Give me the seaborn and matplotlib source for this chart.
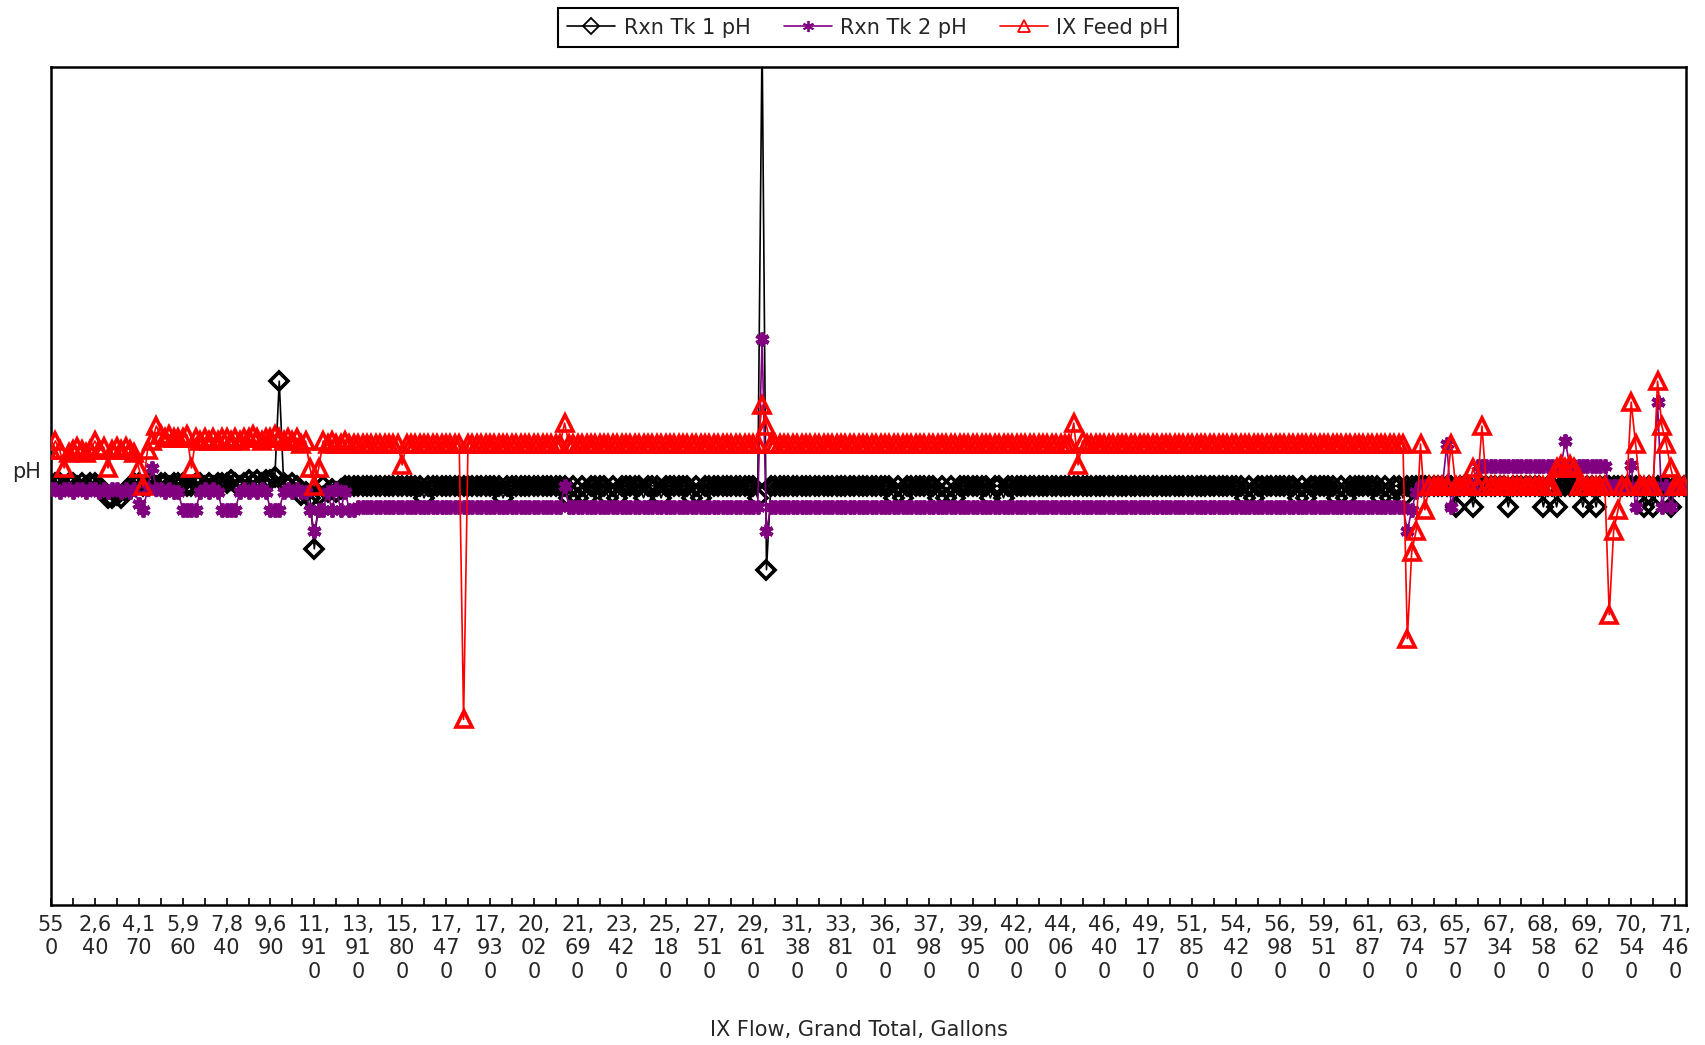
import numpy as np
import matplotlib
matplotlib.use("Agg")
import matplotlib.pyplot as plt
import seaborn as sns

# x axis: IX flow grand total (gallons), one label every 10 readings
gallons = [550, 2640, 4170, 5960, 7840, 9690, 11910, 13910, 15800, 17470,
           17930, 20020, 21690, 23420, 25180, 27510, 29610, 31380, 33810, 36010,
           37980, 39950, 42000, 44060, 46400, 49170, 51850, 54420, 56980, 59510,
           61870, 63740, 65570, 67340, 68580, 69620, 70540, 71460]

rxn_tk1_ph = [
    7.0, 7.05, 7.05, 7.0, 7.05, 7.05, 7.0, 7.05, 7.0, 7.05,
    7.05, 7.0, 6.9, 6.8, 6.8, 6.85, 6.8, 6.9, 7.0, 7.05,
    7.05, 7.0, 7.05, 7.05, 7.0, 7.05, 7.05, 7.0, 7.05, 7.05,
    7.05, 7.0, 7.0, 7.05, 7.05, 7.0, 7.05, 7.0, 7.05, 7.05,
    7.05, 7.1, 7.05, 7.0, 7.05, 7.1, 7.05, 7.1, 7.05, 7.1,
    7.1, 7.15, 8.75, 7.05, 7.0, 7.05, 7.0, 6.85, 6.9, 6.8,
    5.95, 6.85, 7.0, 6.9, 6.95, 6.9, 6.95, 7.0, 7.0, 7.0,
    7.0, 7.0, 7.0, 7.0, 7.0, 7.0, 7.0, 7.0, 7.0, 7.0,
    7.0, 7.0, 7.0, 7.0, 7.0, 6.8, 7.0, 7.0, 7.0, 7.0,
    7.0, 7.0, 7.0, 7.0, 7.0, 7.0, 7.0, 7.0, 7.0, 7.0,
    7.0, 7.0, 7.0, 6.8, 7.0, 7.0, 7.0, 7.0, 7.0, 7.0,
    7.0, 7.0, 7.0, 7.0, 7.0, 7.0, 7.0, 7.0, 6.8, 7.0,
    6.8, 7.0, 6.8, 7.0, 7.0, 7.0, 7.0, 6.8, 7.0, 6.8,
    7.0, 7.0, 7.0, 7.0, 7.0, 6.8, 7.0, 7.0, 7.0, 6.8,
    7.0, 7.0, 7.0, 7.0, 7.0, 7.0, 6.8, 7.0, 6.8, 7.0,
    7.0, 7.0, 7.0, 7.0, 7.0, 7.0, 7.0, 7.0, 7.0, 7.0,
    7.0, 6.8, 14.5, 5.6, 7.0, 7.0, 7.0, 7.0, 7.0, 7.0,
    7.0, 7.0, 7.0, 7.0, 7.0, 7.0, 7.0, 7.0, 7.0, 7.0,
    7.0, 7.0, 7.0, 7.0, 7.0, 7.0, 7.0, 7.0, 7.0, 7.0,
    7.0, 7.0, 6.8, 7.0, 6.8, 7.0, 7.0, 7.0, 7.0, 7.0,
    7.0, 7.0, 6.8, 7.0, 6.8, 7.0, 6.8, 7.0, 7.0, 7.0,
    7.0, 7.0, 7.0, 7.0, 6.8, 7.0, 7.0, 6.8, 7.0, 7.0,
    7.0, 7.0, 7.0, 7.0, 7.0, 7.0, 7.0, 7.0, 7.0, 7.0,
    7.0, 7.0, 7.0, 7.0, 7.0, 7.0, 7.0, 7.0, 7.0, 7.0,
    7.0, 7.0, 7.0, 7.0, 7.0, 7.0, 7.0, 7.0, 7.0, 7.0,
    7.0, 7.0, 7.0, 7.0, 7.0, 7.0, 7.0, 7.0, 7.0, 7.0,
    7.0, 7.0, 7.0, 7.0, 7.0, 7.0, 7.0, 7.0, 7.0, 7.0,
    7.0, 7.0, 6.8, 7.0, 6.8, 7.0, 7.0, 7.0, 7.0, 7.0,
    7.0, 7.0, 7.0, 7.0, 6.8, 7.0, 6.8, 7.0, 7.0, 7.0,
    7.0, 7.0, 7.0, 6.8, 7.0, 6.8, 7.0, 7.0, 7.0, 7.0,
    7.0, 7.0, 7.0, 6.8, 7.0, 6.8, 7.0, 7.0, 6.8, 7.0,
    7.0, 7.0, 7.0, 7.0, 7.0, 7.0, 7.0, 7.0, 7.0, 7.0,
    6.65, 7.0, 7.0, 7.0, 6.65, 7.0, 7.0, 7.0, 7.0, 7.0,
    7.0, 7.0, 6.65, 7.0, 7.0, 7.0, 7.0, 7.0, 7.0, 7.0,
    6.65, 7.0, 7.0, 6.65, 7.0, 7.0, 7.0, 7.0, 7.0, 6.65,
    7.0, 7.0, 6.65, 7.0, 7.0, 7.0, 7.0, 7.0, 7.0, 7.0,
    7.0, 7.0, 7.0, 6.65, 7.0, 6.65, 7.0, 7.0, 7.0, 6.65,
    7.0, 7.0, 7.0,
]

rxn_tk2_ph = [
    6.95, 6.95, 6.9, 6.95, 6.95, 6.9, 6.95, 6.95, 6.9, 6.95,
    6.95, 6.9, 6.95, 6.9, 6.95, 6.95, 6.9, 6.95, 6.9, 6.95,
    6.7, 6.6, 6.95, 7.3, 6.95, 6.95, 6.9, 6.95, 6.9, 6.9,
    6.6, 6.6, 6.6, 6.6, 6.9, 6.95, 6.9, 6.95, 6.9, 6.6,
    6.6, 6.6, 6.6, 6.9, 6.95, 6.9, 6.95, 6.9, 6.95, 6.9,
    6.6, 6.6, 6.6, 6.9, 6.95, 6.9, 6.95, 6.9, 6.9, 6.6,
    6.25, 6.6, 6.6, 6.9, 6.6, 6.95, 6.6, 6.9, 6.6, 6.6,
    6.65, 6.65, 6.65, 6.65, 6.65, 6.65, 6.65, 6.65, 6.65, 6.65,
    6.65, 6.65, 6.65, 6.65, 6.65, 6.65, 6.65, 6.65, 6.65, 6.65,
    6.65, 6.65, 6.65, 6.65, 6.65, 6.65, 6.65, 6.65, 6.65, 6.65,
    6.65, 6.65, 6.65, 6.65, 6.65, 6.65, 6.65, 6.65, 6.65, 6.65,
    6.65, 6.65, 6.65, 6.65, 6.65, 6.65, 6.65, 7.0, 6.65, 6.65,
    6.65, 6.65, 6.65, 6.65, 6.65, 6.65, 6.65, 6.65, 6.65, 6.65,
    6.65, 6.65, 6.65, 6.65, 6.65, 6.65, 6.65, 6.65, 6.65, 6.65,
    6.65, 6.65, 6.65, 6.65, 6.65, 6.65, 6.65, 6.65, 6.65, 6.65,
    6.65, 6.65, 6.65, 6.65, 6.65, 6.65, 6.65, 6.65, 6.65, 6.65,
    6.65, 6.65, 9.45, 6.25, 6.65, 6.65, 6.65, 6.65, 6.65, 6.65,
    6.65, 6.65, 6.65, 6.65, 6.65, 6.65, 6.65, 6.65, 6.65, 6.65,
    6.65, 6.65, 6.65, 6.65, 6.65, 6.65, 6.65, 6.65, 6.65, 6.65,
    6.65, 6.65, 6.65, 6.65, 6.65, 6.65, 6.65, 6.65, 6.65, 6.65,
    6.65, 6.65, 6.65, 6.65, 6.65, 6.65, 6.65, 6.65, 6.65, 6.65,
    6.65, 6.65, 6.65, 6.65, 6.65, 6.65, 6.65, 6.65, 6.65, 6.65,
    6.65, 6.65, 6.65, 6.65, 6.65, 6.65, 6.65, 6.65, 6.65, 6.65,
    6.65, 6.65, 6.65, 6.65, 6.65, 6.65, 6.65, 6.65, 6.65, 6.65,
    6.65, 6.65, 6.65, 6.65, 6.65, 6.65, 6.65, 6.65, 6.65, 6.65,
    6.65, 6.65, 6.65, 6.65, 6.65, 6.65, 6.65, 6.65, 6.65, 6.65,
    6.65, 6.65, 6.65, 6.65, 6.65, 6.65, 6.65, 6.65, 6.65, 6.65,
    6.65, 6.65, 6.65, 6.65, 6.65, 6.65, 6.65, 6.65, 6.65, 6.65,
    6.65, 6.65, 6.65, 6.65, 6.65, 6.65, 6.65, 6.65, 6.65, 6.65,
    6.65, 6.65, 6.65, 6.65, 6.65, 6.65, 6.65, 6.65, 6.65, 6.65,
    6.65, 6.65, 6.65, 6.65, 6.65, 6.65, 6.65, 6.65, 6.65, 6.25,
    6.6, 6.9, 7.0, 7.0, 7.0, 7.0, 7.0, 7.0, 7.7, 6.65,
    7.0, 7.0, 7.0, 7.0, 7.0, 7.33, 7.33, 7.33, 7.33, 7.33,
    7.33, 7.33, 7.33, 7.33, 7.33, 7.33, 7.33, 7.33, 7.33, 7.33,
    7.33, 7.33, 7.33, 7.33, 7.33, 7.75, 7.33, 7.33, 7.33, 7.33,
    7.33, 7.33, 7.33, 7.33, 7.33, 7.0, 7.0, 7.0, 7.0, 7.0,
    7.35, 6.65, 7.0, 7.0, 7.0, 7.0, 8.4, 6.65, 7.0, 6.65,
    7.0, 7.0, 7.0,
]

ix_feed_ph = [
    7.6, 7.75, 7.6, 7.3, 7.55, 7.6, 7.65, 7.6, 7.55, 7.6,
    7.75, 7.6, 7.65, 7.3, 7.6, 7.65, 7.6, 7.65, 7.6, 7.55,
    7.3, 7.0, 7.6, 7.75, 8.0, 7.85, 7.8, 7.85, 7.8, 7.8,
    7.8, 7.85, 7.3, 7.8, 7.75, 7.8, 7.75, 7.8, 7.75, 7.8,
    7.8, 7.75, 7.8, 7.75, 7.8, 7.8, 7.85, 7.8, 7.75, 7.8,
    7.8, 7.85, 7.8, 7.75, 7.8, 7.75, 7.8, 7.7, 7.75, 7.3,
    7.0, 7.3, 7.75, 7.7, 7.75, 7.7, 7.7, 7.75, 7.7, 7.7,
    7.7, 7.7, 7.7, 7.7, 7.7, 7.7, 7.7, 7.7, 7.7, 7.7,
    7.35, 7.7, 7.7, 7.7, 7.7, 7.7, 7.7, 7.7, 7.7, 7.7,
    7.7, 7.7, 7.7, 7.7, 3.1, 7.7, 7.7, 7.7, 7.7, 7.7,
    7.7, 7.7, 7.7, 7.7, 7.7, 7.7, 7.7, 7.7, 7.7, 7.7,
    7.7, 7.7, 7.7, 7.7, 7.7, 7.7, 7.7, 8.05, 7.7, 7.7,
    7.7, 7.7, 7.7, 7.7, 7.7, 7.7, 7.7, 7.7, 7.7, 7.7,
    7.7, 7.7, 7.7, 7.7, 7.7, 7.7, 7.7, 7.7, 7.7, 7.7,
    7.7, 7.7, 7.7, 7.7, 7.7, 7.7, 7.7, 7.7, 7.7, 7.7,
    7.7, 7.7, 7.7, 7.7, 7.7, 7.7, 7.7, 7.7, 7.7, 7.7,
    7.7, 7.7, 8.35, 8.0, 7.7, 7.7, 7.7, 7.7, 7.7, 7.7,
    7.7, 7.7, 7.7, 7.7, 7.7, 7.7, 7.7, 7.7, 7.7, 7.7,
    7.7, 7.7, 7.7, 7.7, 7.7, 7.7, 7.7, 7.7, 7.7, 7.7,
    7.7, 7.7, 7.7, 7.7, 7.7, 7.7, 7.7, 7.7, 7.7, 7.7,
    7.7, 7.7, 7.7, 7.7, 7.7, 7.7, 7.7, 7.7, 7.7, 7.7,
    7.7, 7.7, 7.7, 7.7, 7.7, 7.7, 7.7, 7.7, 7.7, 7.7,
    7.7, 7.7, 7.7, 7.7, 7.7, 7.7, 7.7, 7.7, 7.7, 7.7,
    7.7, 7.7, 7.7, 8.05, 7.35, 7.75, 7.7, 7.7, 7.7, 7.7,
    7.7, 7.7, 7.7, 7.7, 7.7, 7.7, 7.7, 7.7, 7.7, 7.7,
    7.7, 7.7, 7.7, 7.7, 7.7, 7.7, 7.7, 7.7, 7.7, 7.7,
    7.7, 7.7, 7.7, 7.7, 7.7, 7.7, 7.7, 7.7, 7.7, 7.7,
    7.7, 7.7, 7.7, 7.7, 7.7, 7.7, 7.7, 7.7, 7.7, 7.7,
    7.7, 7.7, 7.7, 7.7, 7.7, 7.7, 7.7, 7.7, 7.7, 7.7,
    7.7, 7.7, 7.7, 7.7, 7.7, 7.7, 7.7, 7.7, 7.7, 7.7,
    7.7, 7.7, 7.7, 7.7, 7.7, 7.7, 7.7, 7.7, 7.7, 4.45,
    5.9, 6.25, 7.7, 6.6, 7.0, 7.0, 7.0, 7.0, 7.0, 7.7,
    7.0, 7.0, 7.0, 7.0, 7.3, 7.0, 8.0, 7.0, 7.0, 7.0,
    7.0, 7.0, 7.0, 7.0, 7.0, 7.0, 7.0, 7.0, 7.0, 7.0,
    7.0, 7.0, 7.0, 7.3, 7.35, 7.3, 7.35, 7.3, 7.0, 7.0,
    7.0, 7.0, 7.0, 7.0, 7.0, 4.85, 6.25, 6.6, 7.0, 7.0,
    8.4, 7.7, 7.0, 7.0, 7.0, 7.0, 8.75, 8.0, 7.7, 7.3,
    7.0, 7.0, 7.0,
]


def wrap_label(value):
    # the axis labels break after every two digits
    text = f"{value:,}"
    lines, cur, digits = [], "", 0
    for ch in text:
        if ch.isdigit():
            if digits == 2:
                lines.append(cur)
                cur, digits = "", 0
            digits += 1
        cur += ch
    lines.append(cur)
    return "\n".join(lines)


sns.set_style("white")
plt.rcParams["font.family"] = ["DejaVu Sans"]
plt.rcParams["font.size"] = 15

fig = plt.figure(figsize=(17.05, 10.45), dpi=100)
ax = fig.add_axes([0.0299, 0.134, 0.959, 0.802])

idx = np.arange(len(rxn_tk1_ph))

sns.lineplot(x=idx, y=rxn_tk1_ph, ax=ax, color="black", lw=1.2,
             marker="D", markersize=9.5, mfc="none", mec="black", mew=2.6,
             estimator=None, sort=False, label="Rxn Tk 1 pH", zorder=3)
sns.lineplot(x=idx, y=rxn_tk2_ph, ax=ax, color="#800080", lw=1.2,
             marker=(6, 2, 0), markersize=10, mec="#800080", mew=2.8,
             estimator=None, sort=False, label="Rxn Tk 2 pH", zorder=4)
sns.lineplot(x=idx, y=ix_feed_ph, ax=ax, color="red", lw=1.2,
             marker="^", markersize=11, mfc="none", mec="red", mew=2.6,
             estimator=None, sort=False, label="IX Feed pH", zorder=5)

ax.set_xlim(0, 372.5)
ax.set_ylim(0, 14)
ax.set_yticks([])

label_pos = np.arange(0, 10 * len(gallons), 10)
ax.set_xticks(label_pos)
ax.set_xticklabels([wrap_label(g) for g in gallons], linespacing=1.22)
ax.set_xticks(np.arange(5, 370, 10), minor=True)
ax.tick_params(axis="x", which="both", direction="in", length=5, width=1.2,
               color="black", pad=7, bottom=True, labelsize=15)

for sp in ax.spines.values():
    sp.set_color("black")
    sp.set_linewidth(1.8)

ax.set_xlabel("IX Flow, Grand Total, Gallons", fontsize=15)
ax.xaxis.set_label_coords(0.494, -0.137)
ax.set_ylabel("pH", rotation=0, fontsize=15, va="center", ha="center")
ax.yaxis.set_label_coords(-0.0147, 0.517)

leg = ax.legend(loc="upper center", bbox_to_anchor=(0.509, 0.992),
                bbox_transform=fig.transFigure, ncol=3, frameon=True,
                fancybox=False, framealpha=1, edgecolor="black",
                handlelength=2.3, handletextpad=0.4, columnspacing=1.6,
                borderpad=0.45, borderaxespad=0, fontsize=15)
leg.get_frame().set_linewidth(1.5)
for h in leg.legend_handles:
    h.set_markeredgewidth(1.3)
    h.set_markersize(8)

fig.savefig("out.png", dpi=100)
